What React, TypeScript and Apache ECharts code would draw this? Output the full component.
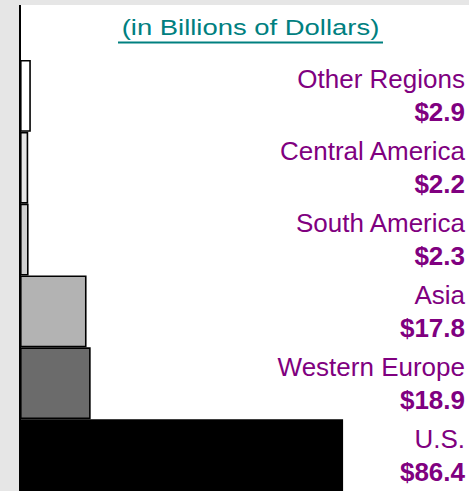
import React, { useEffect, useRef } from "react";
import * as echarts from "echarts";

const categories = ["Other Regions", "Central America", "South America", "Asia", "Western Europe", "U.S."];
const values = [2.9, 2.2, 2.3, 17.8, 18.9, 86.4];
const barColors = ["#ffffff", "#e6e6e6", "#d0d0d0", "#b3b3b3", "#6b6b6b", "#000000"];
const titleText = "(in Billions of Dollars)";

const PURPLE = "#800080";
const TEAL = "#008080";
const FONT = "'Liberation Sans', Arial, sans-serif";

export default function App() {
  const ref = useRef<HTMLDivElement>(null);
  useEffect(() => {
    if (!ref.current) return;
    const chart = echarts.init(ref.current, null, { renderer: "svg" });
    chart.setOption({
      animation: false,
      backgroundColor: "#ffffff",
      grid: { left: 20, right: 4, top: 60, bottom: 0, containLabel: false },
      xAxis: { type: "value", min: 0, max: 119, show: false },
      yAxis: [
        {
          type: "category",
          data: categories,
          inverse: true,
          position: "left",
          axisLine: { show: true, lineStyle: { color: "#000", width: 2 } },
          axisTick: { show: false },
          axisLabel: { show: false },
        },
        {
          type: "category",
          data: categories,
          inverse: true,
          position: "right",
          axisLine: { show: false },
          axisTick: { show: false },
          axisLabel: {
            inside: true,
            margin: 0,
            align: "right",
            formatter: (v: string, i: number) => `{n|${v}}\n{v|$${values[i].toFixed(1)}}`,
            rich: {
              n: { fontSize: 26, color: PURPLE, fontFamily: FONT, lineHeight: 33, align: "right" },
              v: { fontSize: 26, color: PURPLE, fontFamily: FONT, fontWeight: "bold", lineHeight: 33, align: "right" },
            },
          },
        },
      ],
      series: [
        {
          type: "bar",
          yAxisIndex: 0,
          barWidth: "100%",
          barCategoryGap: 0,
          data: values.map((v, i) => ({
            value: v,
            itemStyle: { color: barColors[i], borderColor: "#000", borderWidth: 1.6 },
          })),
        },
      ],
      graphic: [
        { type: "rect", shape: { x: 0, y: 0, width: 469, height: 5 }, style: { fill: "#e6e6e6" }, silent: true },
        { type: "rect", shape: { x: 0, y: 0, width: 19, height: 491 }, style: { fill: "#e6e6e6" }, silent: true },
        { type: "line", shape: { x1: 20, y1: 5, x2: 20, y2: 61 }, style: { stroke: "#000", lineWidth: 2 }, silent: true },
        {
          type: "text",
          x: 250.5,
          y: 38,
          scaleX: 1.22,
          style: { text: titleText, fill: TEAL, fontSize: 22.5, fontFamily: FONT, align: "center", verticalAlign: "bottom" },
          silent: true,
        },
        { type: "line", shape: { x1: 118, y1: 42.5, x2: 383, y2: 42.5 }, style: { stroke: TEAL, lineWidth: 2 }, silent: true },
      ],
    });
    return () => chart.dispose();
  }, []);
  return (
    <div style={{ position: "fixed", left: 0, top: 0, width: 469, height: 491 }}>
      <div ref={ref} style={{ width: 469, height: 491 }} />
    </div>
  );
}
